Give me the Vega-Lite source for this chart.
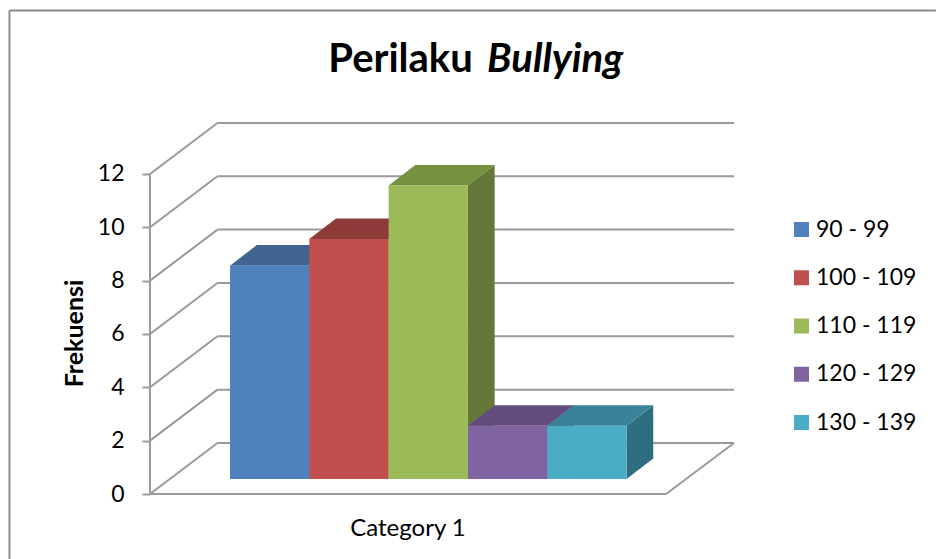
{"$schema":"https://vega.github.io/schema/vega-lite/v6.json","autosize":"none","padding":{"left":150,"top":123,"right":202,"bottom":65},"width":584,"height":371,"background":"white","config":{"font":"Lato","view":{"stroke":null},"axis":{"grid":false}},"datasets":{"bars":[{"category":"90 - 99","value":8},{"category":"100 - 109","value":9},{"category":"110 - 119","value":11},{"category":"120 - 129","value":2},{"category":"130 - 139","value":2}],"ticks":[{"tick":0},{"tick":2},{"tick":4},{"tick":6},{"tick":8},{"tick":10},{"tick":12}]},"layer":[{"data":{"values":[{}]},"mark":{"type":"rule","color":"#8a8a8a","strokeWidth":2},"encoding":{"x":{"datum":-1.772,"type":"quantitative","scale":{"domain":[0,7.364],"nice":false,"zero":false}},"y":{"datum":18.13,"type":"quantitative","scale":{"domain":[0,13.91],"nice":false,"zero":false}},"y2":{"datum":-2.44}}},{"data":{"values":[{}]},"mark":{"type":"rule","color":"#8a8a8a","strokeWidth":2},"encoding":{"x":{"datum":-1.772,"type":"quantitative","scale":{"domain":[0,7.364],"nice":false,"zero":false}},"x2":{"datum":9.91},"y":{"datum":18.13,"type":"quantitative","scale":{"domain":[0,13.91],"nice":false,"zero":false}}}},{"data":{"name":"ticks"},"transform":[{"calculate":"datum.tick+1.9125","as":"back"}],"mark":{"type":"rule","color":"#9a9a9a","strokeWidth":2},"encoding":{"x":{"datum":0,"type":"quantitative","scale":{"domain":[0,7.364],"nice":false,"zero":false},"axis":{"title":"Category 1","ticks":false,"labels":false,"domain":false,"titleFontSize":24,"titleFontWeight":"normal","titleColor":"#000","titleX":257.5,"titleY":34,"titleBaseline":"middle"}},"x2":{"datum":0.851},"y":{"field":"tick","type":"quantitative","scale":{"domain":[0,13.91],"nice":false,"zero":false},"axis":{"values":[0,2,4,6,8,10,12],"title":"Frekuensi","titleFontSize":25,"titleFontWeight":"bold","titleColor":"#000","titleAngle":-90,"titleX":-76,"titleY":210,"titleBaseline":"middle","titleAlign":"center","domain":false,"tickSize":8,"tickColor":"#9a9a9a","tickWidth":2,"labelFontSize":23,"labelColor":"#000","labelPadding":18,"labelBaseline":"middle"}},"y2":{"field":"back"}}},{"data":{"name":"ticks"},"transform":[{"calculate":"datum.tick+1.9125","as":"back"}],"mark":{"type":"rule","color":"#9a9a9a","strokeWidth":2},"encoding":{"x":{"datum":0.851,"type":"quantitative","scale":{"domain":[0,7.364],"nice":false,"zero":false}},"x2":{"datum":7.364},"y":{"field":"back","type":"quantitative","scale":{"domain":[0,13.91],"nice":false,"zero":false}}}},{"data":{"values":[{}]},"mark":{"type":"rule","color":"#9a9a9a","strokeWidth":2},"encoding":{"x":{"datum":0,"type":"quantitative","scale":{"domain":[0,7.364],"nice":false,"zero":false}},"y":{"datum":0,"type":"quantitative","scale":{"domain":[0,13.91],"nice":false,"zero":false}},"y2":{"datum":12}}},{"data":{"values":[{}]},"mark":{"type":"rule","color":"#9a9a9a","strokeWidth":2},"encoding":{"x":{"datum":0,"type":"quantitative","scale":{"domain":[0,7.364],"nice":false,"zero":false}},"x2":{"datum":6.507},"y":{"datum":0,"type":"quantitative","scale":{"domain":[0,13.91],"nice":false,"zero":false}}}},{"data":{"values":[{}]},"mark":{"type":"rule","color":"#9a9a9a","strokeWidth":2},"encoding":{"x":{"datum":6.507,"type":"quantitative","scale":{"domain":[0,7.364],"nice":false,"zero":false}},"x2":{"datum":7.364},"y":{"datum":0,"type":"quantitative","scale":{"domain":[0,13.91],"nice":false,"zero":false}},"y2":{"datum":1.9125}}},{"data":{"name":"bars"},"transform":[{"window":[{"op":"row_number","as":"n"}]},{"calculate":"[0,1]","as":"depth"},{"flatten":["depth"]},{"calculate":"datum.n+0.009+1+datum.depth*0.3367","as":"sx"},{"calculate":"datum.value+0.5625+datum.depth*0.769","as":"sy"},{"calculate":"0.5625+datum.depth*0.769","as":"sy2"}],"mark":{"type":"area","orient":"vertical","line":false},"encoding":{"x":{"field":"sx","type":"quantitative","stack":null,"scale":{"domain":[0,7.364],"nice":false,"zero":false}},"y":{"field":"sy","type":"quantitative","stack":null,"scale":{"domain":[0,13.91],"nice":false,"zero":false}},"y2":{"field":"sy2"},"color":{"field":"category","type":"nominal","legend":null,"scale":{"domain":["90 - 99","100 - 109","110 - 119","120 - 129","130 - 139"],"range":["#375A85","#853836","#647638","#534169","#2F6E80"]}}}},{"data":{"name":"bars"},"transform":[{"window":[{"op":"row_number","as":"n"}]},{"calculate":"[0,1]","as":"depth"},{"flatten":["depth"]},{"calculate":"datum.n+0.009+datum.depth*0.3367","as":"tx"},{"calculate":"datum.tx+1","as":"tx2"},{"calculate":"datum.value+0.5625+datum.depth*0.769","as":"ty"}],"mark":{"type":"area","orient":"horizontal"},"encoding":{"x":{"field":"tx","type":"quantitative","stack":null,"scale":{"domain":[0,7.364],"nice":false,"zero":false}},"x2":{"field":"tx2"},"y":{"field":"ty","type":"quantitative","stack":null,"scale":{"domain":[0,13.91],"nice":false,"zero":false}},"color":{"field":"category","type":"nominal","legend":null,"scale":{"domain":["90 - 99","100 - 109","110 - 119","120 - 129","130 - 139"],"range":["#3F6490","#8E3A38","#769041","#624C7E","#38839A"]}}}},{"data":{"name":"bars"},"transform":[{"window":[{"op":"row_number","as":"n"}]},{"calculate":"datum.n+0.009","as":"fx"},{"calculate":"datum.fx+1","as":"fx2"},{"calculate":"datum.value+0.5625","as":"fy"},{"calculate":"0.5625","as":"fy2"}],"mark":{"type":"bar"},"encoding":{"x":{"field":"fx","type":"quantitative","scale":{"domain":[0,7.364],"nice":false,"zero":false}},"x2":{"field":"fx2"},"y":{"field":"fy","type":"quantitative","scale":{"domain":[0,13.91],"nice":false,"zero":false}},"y2":{"field":"fy2"},"color":{"field":"category","type":"nominal","scale":{"domain":["90 - 99","100 - 109","110 - 119","120 - 129","130 - 139"],"range":["#4F81BD","#C0504D","#9BBB59","#8064A2","#4BACC6"]},"legend":{"title":null,"orient":"none","legendX":640,"legendY":95,"symbolType":"square","symbolSize":225,"symbolStrokeWidth":0,"labelFontSize":23,"labelColor":"#000","labelOffset":3,"rowPadding":24.25,"direction":"vertical"}}}},{"data":{"values":[{"label":"Perilaku"}]},"mark":{"type":"text","fontSize":40,"fontWeight":"bold","align":"right","baseline":"alphabetic","color":"#000"},"encoding":{"x":{"datum":4.07,"type":"quantitative","scale":{"domain":[0,7.364],"nice":false,"zero":false}},"y":{"datum":15.82,"type":"quantitative","scale":{"domain":[0,13.91],"nice":false,"zero":false}},"text":{"field":"label"}}},{"data":{"values":[{"label":"Bullying"}]},"mark":{"type":"text","fontSize":40,"fontWeight":"bold","fontStyle":"italic","align":"left","baseline":"alphabetic","color":"#000"},"encoding":{"x":{"datum":4.25,"type":"quantitative","scale":{"domain":[0,7.364],"nice":false,"zero":false}},"y":{"datum":15.82,"type":"quantitative","scale":{"domain":[0,13.91],"nice":false,"zero":false}},"text":{"field":"label"}}}],"resolve":{"scale":{"color":"independent"}}}
